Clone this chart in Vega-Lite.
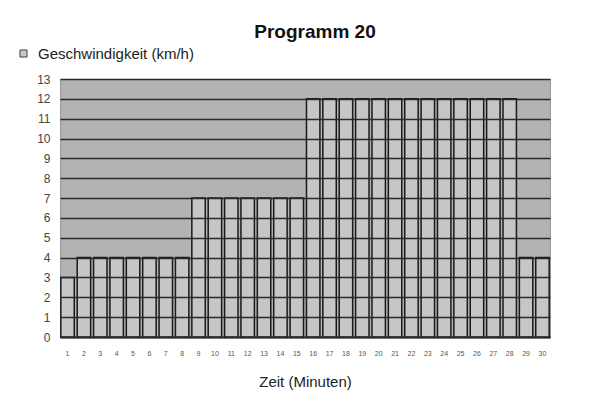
{
  "$schema": "https://vega.github.io/schema/vega-lite/v6.json",
  "width": 490,
  "height": 258,
  "autosize": {"type": "none"},
  "padding": {"left": 60, "top": 79, "right": 42, "bottom": 72},
  "background": "white",
  "title": {"text": "Programm 20", "fontSize": 19, "fontWeight": "bold", "font": "Liberation Sans", "color": "#111", "anchor": "middle", "offset": 4, "dx": 10},
  "data": {"values": [
    {"minute": 1, "speed": 3, "series": "Geschwindigkeit (km/h)"},
    {"minute": 2, "speed": 4, "series": "Geschwindigkeit (km/h)"},
    {"minute": 3, "speed": 4, "series": "Geschwindigkeit (km/h)"},
    {"minute": 4, "speed": 4, "series": "Geschwindigkeit (km/h)"},
    {"minute": 5, "speed": 4, "series": "Geschwindigkeit (km/h)"},
    {"minute": 6, "speed": 4, "series": "Geschwindigkeit (km/h)"},
    {"minute": 7, "speed": 4, "series": "Geschwindigkeit (km/h)"},
    {"minute": 8, "speed": 4, "series": "Geschwindigkeit (km/h)"},
    {"minute": 9, "speed": 7, "series": "Geschwindigkeit (km/h)"},
    {"minute": 10, "speed": 7, "series": "Geschwindigkeit (km/h)"},
    {"minute": 11, "speed": 7, "series": "Geschwindigkeit (km/h)"},
    {"minute": 12, "speed": 7, "series": "Geschwindigkeit (km/h)"},
    {"minute": 13, "speed": 7, "series": "Geschwindigkeit (km/h)"},
    {"minute": 14, "speed": 7, "series": "Geschwindigkeit (km/h)"},
    {"minute": 15, "speed": 7, "series": "Geschwindigkeit (km/h)"},
    {"minute": 16, "speed": 12, "series": "Geschwindigkeit (km/h)"},
    {"minute": 17, "speed": 12, "series": "Geschwindigkeit (km/h)"},
    {"minute": 18, "speed": 12, "series": "Geschwindigkeit (km/h)"},
    {"minute": 19, "speed": 12, "series": "Geschwindigkeit (km/h)"},
    {"minute": 20, "speed": 12, "series": "Geschwindigkeit (km/h)"},
    {"minute": 21, "speed": 12, "series": "Geschwindigkeit (km/h)"},
    {"minute": 22, "speed": 12, "series": "Geschwindigkeit (km/h)"},
    {"minute": 23, "speed": 12, "series": "Geschwindigkeit (km/h)"},
    {"minute": 24, "speed": 12, "series": "Geschwindigkeit (km/h)"},
    {"minute": 25, "speed": 12, "series": "Geschwindigkeit (km/h)"},
    {"minute": 26, "speed": 12, "series": "Geschwindigkeit (km/h)"},
    {"minute": 27, "speed": 12, "series": "Geschwindigkeit (km/h)"},
    {"minute": 28, "speed": 12, "series": "Geschwindigkeit (km/h)"},
    {"minute": 29, "speed": 4, "series": "Geschwindigkeit (km/h)"},
    {"minute": 30, "speed": 4, "series": "Geschwindigkeit (km/h)"}
  ]},
  "mark": {"type": "bar", "stroke": "#1a1a1a", "strokeWidth": 1.5, "fillOpacity": 1},
  "encoding": {
    "x": {
      "field": "minute", "type": "ordinal",
      "scale": {"paddingInner": 0.18, "paddingOuter": 0.05},
      "axis": {
        "title": "Zeit (Minuten)", "titleFont": "Liberation Sans", "titleFontSize": 15, "titleFontWeight": "normal", "titleColor": "#222", "titlePadding": 18,
        "labelAngle": 0, "labelFontSize": 7, "labelColor": "#555", "labelPadding": 12, "labelFont": "Liberation Sans",
        "ticks": false, "domain": true, "domainColor": "#222", "domainWidth": 2
      }
    },
    "y": {
      "field": "speed", "type": "quantitative",
      "scale": {"domain": [0, 13], "nice": false},
      "axis": {
        "title": null, "values": [0,1,2,3,4,5,6,7,8,9,10,11,12,13],
        "labelOverlap": false, "labelFontSize": 12, "labelColor": "#444", "labelFont": "Liberation Sans", "labelPadding": 10,
        "ticks": false, "domain": false,
        "grid": true, "gridColor": "#2a2a2a", "gridWidth": 1.6, "zindex": 1
      }
    },
    "color": {
      "field": "series", "type": "nominal",
      "scale": {"range": ["#c6c6c6"]},
      "legend": {
        "title": null, "orient": "none", "legendX": -44, "legendY": -33,
        "symbolType": "square", "symbolSize": 50, "symbolStrokeColor": "#444", "symbolStrokeWidth": 1,
        "labelFontSize": 15, "labelFont": "Liberation Sans", "labelColor": "#222", "labelOffset": 7
      }
    }
  },
  "config": {
    "view": {"fill": "#b3b3b3", "stroke": "#999", "strokeWidth": 1}
  }
}
